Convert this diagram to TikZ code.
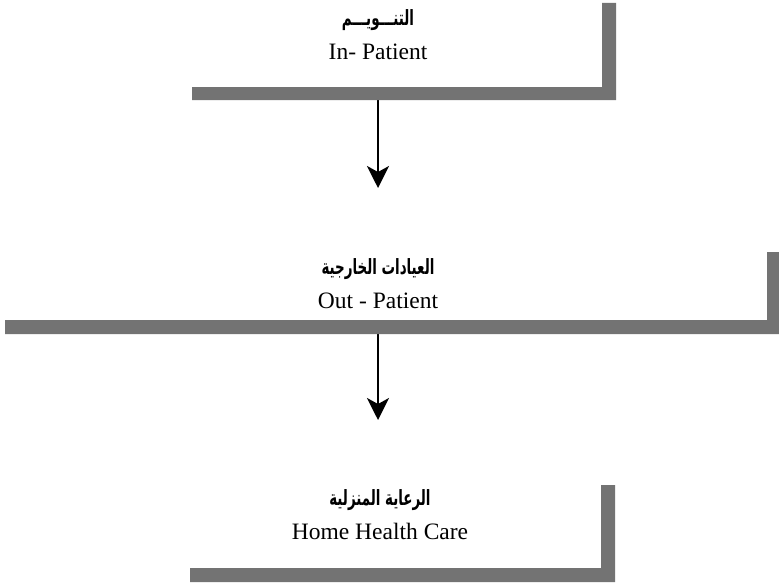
\documentclass[tikz,border=0pt]{standalone}
\usepackage{fontspec}
\setmainfont{Liberation Serif}
\newfontfamily\arabicfont[Script=Arabic,FakeStretch=0.64]{DejaVu Sans}
\TeXXeTstate=1
\usetikzlibrary{arrows.meta,positioning}

\begin{document}
\begin{tikzpicture}[
    x=1pt,y=1pt,
    panel/.style={inner sep=0pt,outer sep=0pt},
    caption/.style={align=center,font=\fontsize{11.75}{14}\selectfont},
    grayband/.style={fill=black!55},
    flow/.style={-{Stealth[length=11pt,width=11pt,inset=3pt]},line width=1pt}
  ]
    \useasboundingbox (0,0) rectangle (389.5,292.5);
    \node[panel,minimum width=205pt,minimum height=42pt] (inbox) at (198.5,270) {};
    \node[panel,minimum width=381pt,minimum height=34pt] (outbox) at (193,149.5) {};
    \node[panel,minimum width=205.5pt,minimum height=41.5pt] (homebox) at (197.75,29.25) {};

    \node[caption] (inpat) at (189,275) {{\arabicfont\bfseries\fontsize{10.5}{12}\selectfont\beginR التنـــويـــم\endR}\\[3pt]In- Patient};
    \node[caption] (outpat) at (189,150.5) {{\arabicfont\bfseries\fontsize{10.5}{12}\selectfont\beginR العيادات الخارجية\endR}\\[3pt]Out - Patient};
    \node[caption] (homecare) at (190,35.25) {{\arabicfont\bfseries\fontsize{10.5}{12}\selectfont\beginR الرعاية المنزلية\endR}\\[3pt]Home Health Care};

    \draw[flow] (inbox.south -| inpat) -- ([yshift=32pt]outbox.north -| inpat);
    \draw[flow] (outbox.south -| outpat) -- ([yshift=32.5pt]homebox.north -| outpat);

    \fill[grayband] (inbox.south west) rectangle ([xshift=7pt,yshift=-6.5pt]inbox.south east)
      (inbox.north east) rectangle ([xshift=7pt,yshift=-6.5pt]inbox.south east);
    \fill[grayband] (outbox.south west) rectangle ([xshift=6pt,yshift=-7pt]outbox.south east)
      (outbox.north east) rectangle ([xshift=6pt,yshift=-7pt]outbox.south east);
    \fill[grayband] (homebox.south west) rectangle ([xshift=7pt,yshift=-7pt]homebox.south east)
      (homebox.north east) rectangle ([xshift=7pt,yshift=-7pt]homebox.south east);
  \end{tikzpicture}
\end{document}
